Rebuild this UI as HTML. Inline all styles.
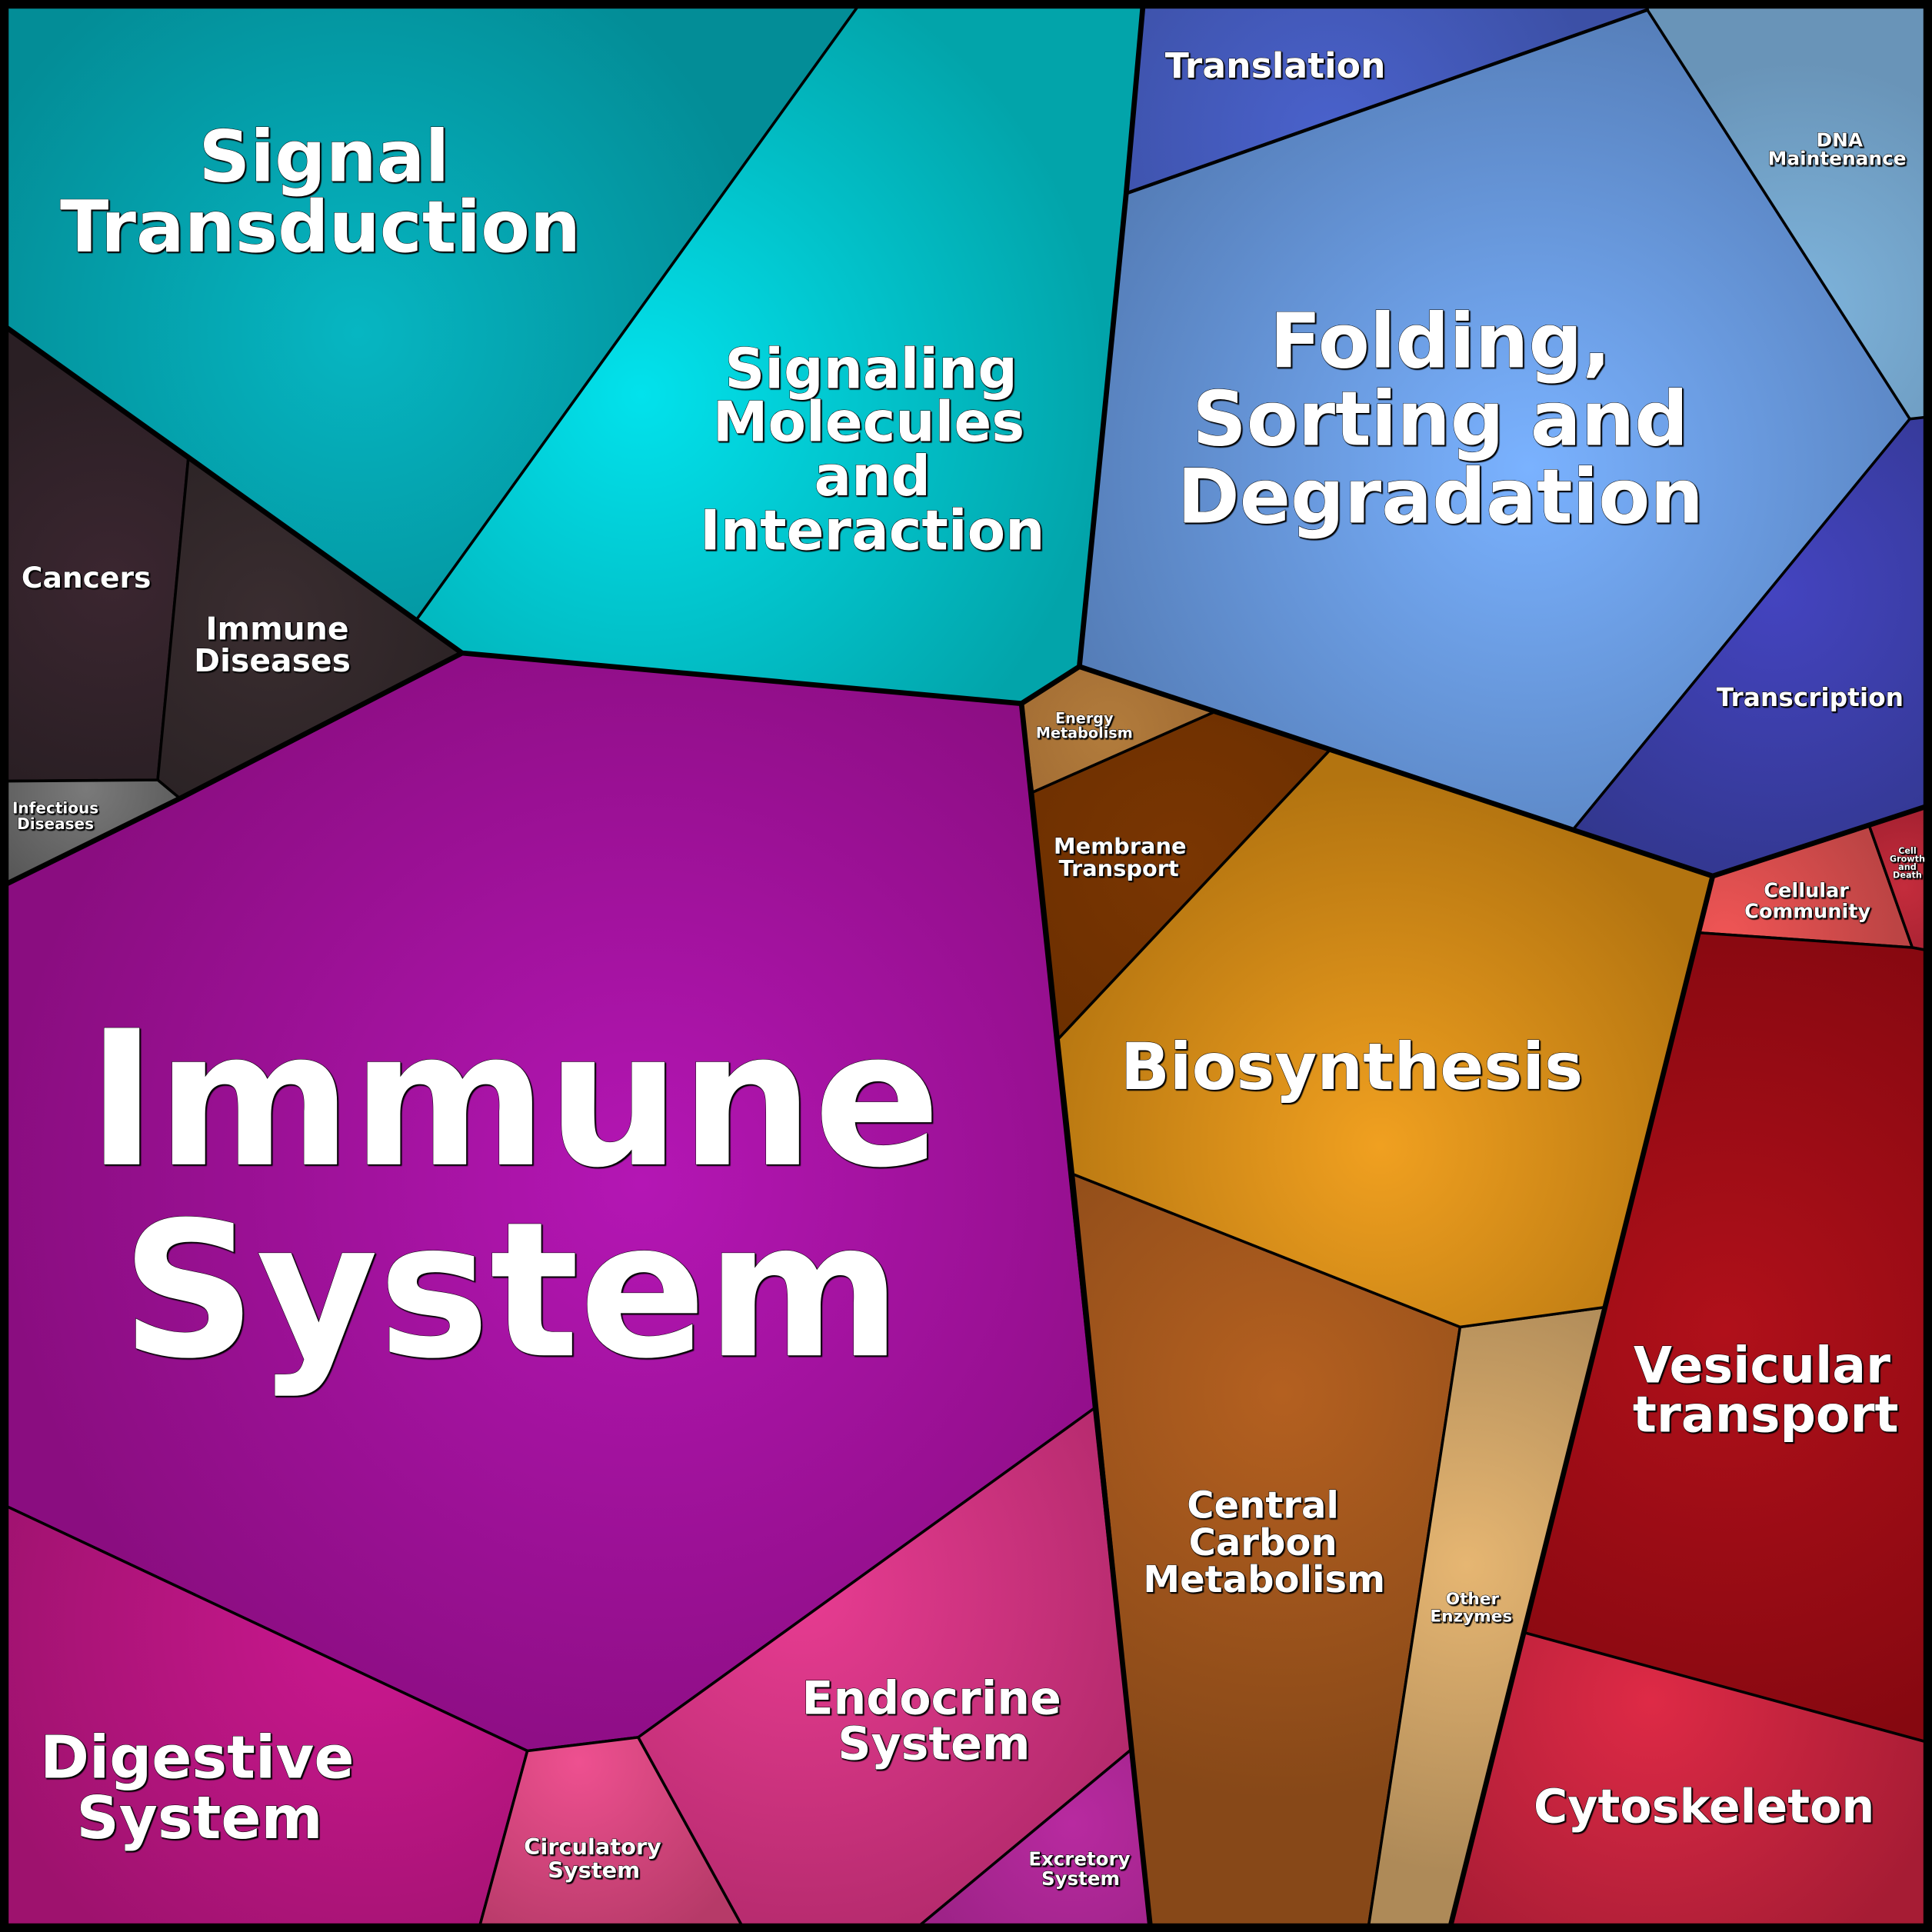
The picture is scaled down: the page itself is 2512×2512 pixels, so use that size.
<!DOCTYPE html>
<html><head><meta charset="utf-8"><style>
html,body{margin:0;padding:0;background:#000;}
svg{display:block;}
text{font-family:"DejaVu Sans","Liberation Sans",sans-serif;font-weight:bold;fill:#fff;stroke:#000;stroke-width:0.6;paint-order:stroke;text-anchor:middle;}
</style></head><body>
<svg width="2512" height="2512" viewBox="0 0 1568 1568" xmlns="http://www.w3.org/2000/svg">
<defs>
<filter id="sh" x="-10%" y="-10%" width="120%" height="130%"><feDropShadow dx="1" dy="1" stdDeviation="0.3" flood-color="#000" flood-opacity="1"/></filter>
<radialGradient id="g_sig" gradientUnits="userSpaceOnUse" cx="290" cy="270" r="340"><stop offset="0" stop-color="#06b6c2"/><stop offset="1" stop-color="#038d97"/></radialGradient>
<radialGradient id="g_mol" gradientUnits="userSpaceOnUse" cx="520" cy="320" r="380"><stop offset="0" stop-color="#02e2ec"/><stop offset="1" stop-color="#02a4aa"/></radialGradient>
<radialGradient id="g_can" gradientUnits="userSpaceOnUse" cx="90" cy="470" r="180"><stop offset="0" stop-color="#3b2630"/><stop offset="1" stop-color="#2a1f24"/></radialGradient>
<radialGradient id="g_imd" gradientUnits="userSpaceOnUse" cx="220" cy="500" r="180"><stop offset="0" stop-color="#3a2d30"/><stop offset="1" stop-color="#2a2224"/></radialGradient>
<radialGradient id="g_inf" gradientUnits="userSpaceOnUse" cx="70" cy="640" r="100"><stop offset="0" stop-color="#7a7a7a"/><stop offset="1" stop-color="#555"/></radialGradient>
<radialGradient id="g_ims" gradientUnits="userSpaceOnUse" cx="520" cy="960" r="520"><stop offset="0" stop-color="#b416b4"/><stop offset="1" stop-color="#8a0d80"/></radialGradient>
<radialGradient id="g_dig" gradientUnits="userSpaceOnUse" cx="300" cy="1320" r="330"><stop offset="0" stop-color="#cc1890"/><stop offset="1" stop-color="#9e126e"/></radialGradient>
<radialGradient id="g_cir" gradientUnits="userSpaceOnUse" cx="470" cy="1430" r="160"><stop offset="0" stop-color="#ee5090"/><stop offset="1" stop-color="#b63a68"/></radialGradient>
<radialGradient id="g_end" gradientUnits="userSpaceOnUse" cx="650" cy="1290" r="300"><stop offset="0" stop-color="#e83c92"/><stop offset="1" stop-color="#b32a6c"/></radialGradient>
<radialGradient id="g_exc" gradientUnits="userSpaceOnUse" cx="870" cy="1480" r="130"><stop offset="0" stop-color="#b82aa0"/><stop offset="1" stop-color="#9e2388"/></radialGradient>
<radialGradient id="g_ccm" gradientUnits="userSpaceOnUse" cx="1040" cy="1130" r="330"><stop offset="0" stop-color="#b46020"/><stop offset="1" stop-color="#874818"/></radialGradient>
<radialGradient id="g_oth" gradientUnits="userSpaceOnUse" cx="1190" cy="1270" r="250"><stop offset="0" stop-color="#e6b672"/><stop offset="1" stop-color="#ae8a58"/></radialGradient>
<radialGradient id="g_bio" gradientUnits="userSpaceOnUse" cx="1120" cy="930" r="300"><stop offset="0" stop-color="#f0a020"/><stop offset="1" stop-color="#b37410"/></radialGradient>
<radialGradient id="g_mem" gradientUnits="userSpaceOnUse" cx="960" cy="700" r="200"><stop offset="0" stop-color="#7a3602"/><stop offset="1" stop-color="#6a2e00"/></radialGradient>
<radialGradient id="g_ene" gradientUnits="userSpaceOnUse" cx="900" cy="595" r="100"><stop offset="0" stop-color="#b27c3c"/><stop offset="1" stop-color="#a06a32"/></radialGradient>
<radialGradient id="g_fol" gradientUnits="userSpaceOnUse" cx="1240" cy="380" r="400"><stop offset="0" stop-color="#7ab2ff"/><stop offset="1" stop-color="#547cb6"/></radialGradient>
<radialGradient id="g_tra" gradientUnits="userSpaceOnUse" cx="1080" cy="110" r="220"><stop offset="0" stop-color="#4a62cc"/><stop offset="1" stop-color="#3c50a6"/></radialGradient>
<radialGradient id="g_dna" gradientUnits="userSpaceOnUse" cx="1460" cy="250" r="200"><stop offset="0" stop-color="#7eb4dc"/><stop offset="1" stop-color="#6994b8"/></radialGradient>
<radialGradient id="g_tsc" gradientUnits="userSpaceOnUse" cx="1440" cy="480" r="250"><stop offset="0" stop-color="#4444c0"/><stop offset="1" stop-color="#32378e"/></radialGradient>
<radialGradient id="g_cel" gradientUnits="userSpaceOnUse" cx="1400" cy="760" r="140"><stop offset="0" stop-color="#f05555"/><stop offset="1" stop-color="#bc4444"/></radialGradient>
<radialGradient id="g_cgd" gradientUnits="userSpaceOnUse" cx="1545" cy="720" r="60"><stop offset="0" stop-color="#c42c3c"/><stop offset="1" stop-color="#a82232"/></radialGradient>
<radialGradient id="g_ves" gradientUnits="userSpaceOnUse" cx="1400" cy="1080" r="350"><stop offset="0" stop-color="#b0101a"/><stop offset="1" stop-color="#860810"/></radialGradient>
<radialGradient id="g_cyt" gradientUnits="userSpaceOnUse" cx="1340" cy="1380" r="250"><stop offset="0" stop-color="#de2a46"/><stop offset="1" stop-color="#a61c34"/></radialGradient>
</defs>
<rect x="0" y="0" width="1568" height="1568" fill="#000"/>
<g stroke="#000" stroke-width="2.2" stroke-linejoin="round">
<polygon fill="url(#g_sig)" points="0,0 700,0 338,503 0,262"/>
<polygon fill="url(#g_mol)" points="700,0 928,0 914,157 876,541 829,571 375,530 338,503"/>
<polygon fill="url(#g_can)" points="0,262 153,370 128,633 0,634"/>
<polygon fill="url(#g_imd)" points="153,370 375,530 146,648 128,633"/>
<polygon fill="url(#g_inf)" points="0,634 128,633 146,648 0,720"/>
<polygon fill="url(#g_ims)" points="0,720 146,648 375,530 829,571 888,1143 518,1410 428,1421 0,1220"/>
<polygon fill="url(#g_dig)" points="0,1220 428,1421 388,1568 0,1568"/>
<polygon fill="url(#g_cir)" points="428,1421 518,1410 605,1568 388,1568"/>
<polygon fill="url(#g_end)" points="518,1410 888,1143 918,1420 740,1568 605,1568"/>
<polygon fill="url(#g_exc)" points="918,1420 934,1568 740,1568"/>
<polygon fill="url(#g_ccm)" points="871,953 1185,1077 1110,1568 934,1568"/>
<polygon fill="url(#g_oth)" points="1185,1077 1302,1061 1176,1568 1110,1568"/>
<polygon fill="url(#g_bio)" points="859,843 1079,609 1390,711 1302,1061 1185,1077 871,953"/>
<polygon fill="url(#g_mem)" points="838,643 985,578 1079,609 859,843"/>
<polygon fill="url(#g_ene)" points="829,571 876,541 985,578 838,643"/>
<polygon fill="url(#g_fol)" points="914,157 1337,8 1550,340 1277,673 876,541"/>
<polygon fill="url(#g_tra)" points="928,0 1340,0 1337,8 914,157"/>
<polygon fill="url(#g_dna)" points="1337,0 1568,0 1568,340 1550,340 1337,8"/>
<polygon fill="url(#g_tsc)" points="1550,340 1568,338 1568,655 1390,711 1277,673"/>
<polygon fill="url(#g_cel)" points="1390,711 1517,670 1552,769 1379,757"/>
<polygon fill="url(#g_cgd)" points="1517,670 1568,653 1568,772 1552,769"/>
<polygon fill="url(#g_ves)" points="1379,757 1552,769 1568,772 1568,1415 1237,1325 1302,1061"/>
<polygon fill="url(#g_cyt)" points="1237,1325 1568,1415 1568,1568 1176,1568"/>
</g>
<g stroke="#000" fill="none" stroke-linejoin="round" stroke-linecap="round">
<polyline stroke-width="2.8" points="914,157 1337,8"/>
<g stroke-width="4.2">
<polyline points="0,262 375,530 829,571"/>
<polyline points="0,720 146,648 375,530"/>
<polyline points="829,571 876,541 914,157 928,0"/>
<polyline points="829,571 934,1568"/>
<polyline points="876,541 1390,711 1568,653"/>
<polyline points="1390,711 1176,1568"/>
</g>
</g>
<rect x="3.5" y="3.5" width="1561" height="1561" fill="none" stroke="#000" stroke-width="7"/>
<g filter="url(#sh)">
<text font-size="58" x="263" y="147">Signal</text>
<text font-size="58" x="260" y="204">Transduction</text>
<text font-size="45" x="707" y="315">Signaling</text>
<text font-size="45" x="705" y="358">Molecules</text>
<text font-size="45" x="708" y="402">and</text>
<text font-size="45" x="708" y="446">Interaction</text>
<text font-size="61" x="1169" y="298">Folding,</text>
<text font-size="61" x="1169" y="361">Sorting and</text>
<text font-size="61" x="1169" y="424">Degradation</text>
<text font-size="28.5" x="1035" y="63">Translation</text>
<text font-size="15.5" x="1493" y="119" stroke-width="0.4">DNA</text>
<text font-size="15.5" x="1491" y="134" stroke-width="0.4">Maintenance</text>
<text font-size="23.5" x="70" y="477">Cancers</text>
<text font-size="25.5" x="225" y="519">Immune</text>
<text font-size="25.5" x="221" y="545">Diseases</text>
<text font-size="12.5" x="45" y="660" stroke-width="0.4">Infectious</text>
<text font-size="12.5" x="45" y="673" stroke-width="0.4">Diseases</text>
<text font-size="152" x="417" y="945" stroke-width="1">Immune</text>
<text font-size="152" x="415" y="1100" stroke-width="1">System</text>
<text font-size="48" x="160" y="1443">Digestive</text>
<text font-size="48" x="162" y="1492">System</text>
<text font-size="18" x="481" y="1505" stroke-width="0.4">Circulatory</text>
<text font-size="18" x="482" y="1524" stroke-width="0.4">System</text>
<text font-size="37.5" x="756" y="1391">Endocrine</text>
<text font-size="37.5" x="758" y="1428">System</text>
<text font-size="15.3" x="876" y="1514" stroke-width="0.4">Excretory</text>
<text font-size="15.3" x="877" y="1530" stroke-width="0.4">System</text>
<text font-size="30" x="1025" y="1232">Central</text>
<text font-size="30" x="1025" y="1262">Carbon</text>
<text font-size="30" x="1026" y="1292">Metabolism</text>
<text font-size="13.5" x="1195" y="1302" stroke-width="0.4">Other</text>
<text font-size="13.5" x="1194" y="1316" stroke-width="0.4">Enzymes</text>
<text font-size="52.5" x="1097" y="884">Biosynthesis</text>
<text font-size="18" x="909" y="693" stroke-width="0.4">Membrane</text>
<text font-size="18" x="908" y="711" stroke-width="0.4">Transport</text>
<text font-size="12" x="880" y="587" stroke-width="0.3">Energy</text>
<text font-size="12" x="880" y="599" stroke-width="0.3">Metabolism</text>
<text font-size="20.5" x="1469" y="573">Transcription</text>
<text font-size="16" x="1466" y="728" stroke-width="0.4">Cellular</text>
<text font-size="16" x="1467" y="745" stroke-width="0.4">Community</text>
<text font-size="7" x="1548" y="693" stroke-width="0.2">Cell</text>
<text font-size="7" x="1548" y="699.5" stroke-width="0.2">Growth</text>
<text font-size="7" x="1548" y="706" stroke-width="0.2">and</text>
<text font-size="7" x="1548" y="712.5" stroke-width="0.2">Death</text>
<text font-size="40.5" x="1430" y="1122">Vesicular</text>
<text font-size="40.5" x="1433" y="1162">transport</text>
<text font-size="37.6" x="1383" y="1479">Cytoskeleton</text>
</g>
</svg>
</body></html>
